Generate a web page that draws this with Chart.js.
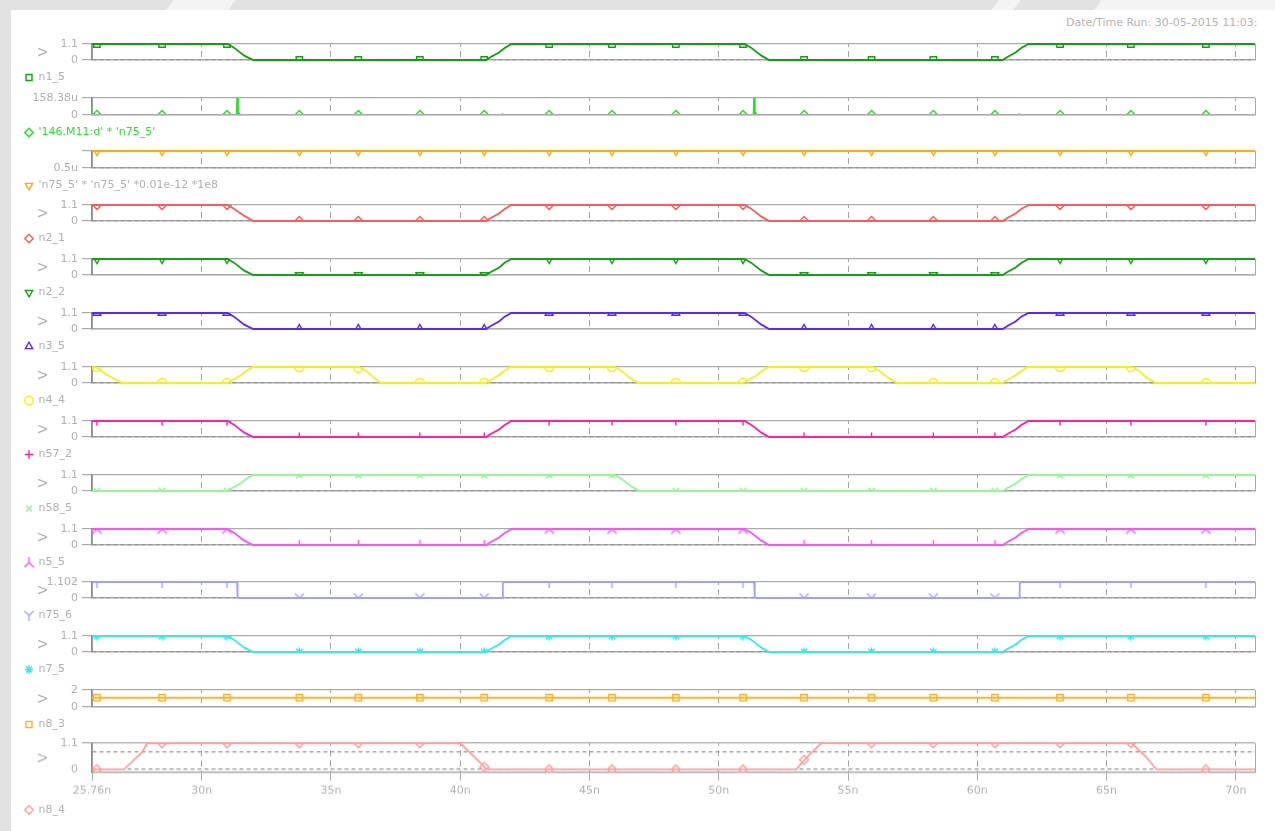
<!DOCTYPE html>
<html>
<head>
<meta charset="utf-8">
<title>waveforms</title>
<script src="https://cdn.jsdelivr.net/npm/chart.js"></script>
<style>
  body { margin: 0; width: 1275px; height: 831px; overflow: hidden; position: relative; background: #e2e2e2; font-family: "DejaVu Sans", sans-serif; }
  #sheet { position: absolute; left: 11px; top: 10px; right: 0; bottom: 0; background: #fff; }
  .deco { position: absolute; top: 0; height: 10px; background: #f4f4f4; transform: skewX(-35deg); }
  .panel { position: absolute; left: 0; width: 1275px; }
  #stamp { position: absolute; left: 1066px; top: 16px; font-size: 11px; color: #b4b4b4; white-space: nowrap; }
</style>
</head>
<body>
<div id="sheet"></div>
<div class="deco" style="left:170px;width:62px"></div>
<div class="deco" style="left:995px;width:22px"></div>
<div class="deco" style="left:1098px;width:190px"></div>
<div id="stamp">Date/Time Run: 30-05-2015 11:03:</div>
<script>
"use strict";

// time axis, ns
const xMin = 25.76;
const xMax = 70.74;
const xTicks = [25.76, 30, 35, 40, 45, 50, 55, 60, 65, 70];
const xTickLabels = ["25.76n", "30n", "35n", "40n", "45n", "50n", "55n", "60n", "65n", "70n"];

// where the simulator drew a marker on every trace
const markerTimes = [25.95, 28.47, 30.98, 33.78, 36.06, 38.44, 40.93, 43.44, 45.87, 48.34, 50.94, 53.30, 55.91, 58.30, 60.68, 63.20, 65.94, 68.84];

// breakpoints of the traces
const tMain = [25.76, 31.0, 31.25, 31.65, 32.0, 41.0, 41.2, 41.5, 41.72, 41.98, 51.0, 51.25, 51.65, 51.95, 60.98, 61.18, 61.48, 61.7, 61.98, 70.74];
const tN58 = [25.76, 31.0, 31.2, 31.5, 31.72, 31.98, 45.98, 46.23, 46.63, 46.95, 60.98, 61.18, 61.48, 61.7, 61.98, 70.74];
const tN4 = [25.76, 25.95, 26.3, 26.94, 31.0, 31.2, 31.5, 31.72, 31.98, 36.1, 36.35, 36.7, 36.95, 40.98, 41.18, 41.48, 41.7, 41.94,
  45.98, 46.23, 46.6, 46.92, 50.95, 51.15, 51.45, 51.67, 51.92, 55.96, 56.2, 56.6, 56.92, 60.97, 61.17, 61.47, 61.7, 61.95, 66.0, 66.25, 66.6, 66.92, 70.74];
const tN75_6 = [25.76, 31.37, 31.39, 31.45, 41.63, 41.65, 41.72, 51.37, 51.39, 51.45, 61.62, 61.64, 61.71, 70.74];
const tM11 = [25.76, 31.36, 31.38, 31.4, 31.44, 31.49, 41.61, 41.64, 41.67, 51.35, 51.37, 51.39, 51.43, 51.48, 61.59, 61.62, 61.65, 70.74];
const tFlat = [25.76, 70.74];
const tN8_4 = [25.76, 27.0, 27.7, 27.9, 40.0, 40.9, 41.02, 53.0, 53.43, 53.97, 65.96, 66.5, 66.93, 70.74];

// trace values (V, or u for the two expressions)
const n1_5 = [1.1, 1.1, 0.85, 0.3, 0, 0, 0.22, 0.52, 0.82, 1.1, 1.1, 0.85, 0.3, 0, 0, 0.22, 0.52, 0.82, 1.1, 1.1];
const m11 = [0, 0, 158.38, 28, 14, 0, 0, 6, 0, 0, 158.38, 28, 14, 0, 0, 6, 0, 0];
const n75sq = [1.21, 1.21];
const n2_1 = [1.1, 1.1, 0.84, 0.35, 0, 0, 0.22, 0.52, 0.82, 1.1, 1.1, 0.85, 0.3, 0, 0, 0.22, 0.52, 0.82, 1.1, 1.1];
const n2_2 = [1.1, 1.1, 0.85, 0.3, 0, 0, 0.22, 0.5, 0.84, 1.1, 1.1, 0.85, 0.3, 0, 0, 0.22, 0.52, 0.82, 1.1, 1.1];
const n3_5 = [1.1, 1.1, 0.85, 0.3, 0, 0, 0.22, 0.52, 0.85, 1.1, 1.1, 0.85, 0.3, 0, 0, 0.22, 0.52, 0.85, 1.1, 1.1];
const n4_4 = [1.1, 1.05, 0.6, 0, 0, 0.22, 0.52, 0.82, 1.1, 1.1, 0.85, 0.3, 0, 0, 0.22, 0.52, 0.82, 1.1, 1.1, 0.85, 0.3, 0,
  0, 0.22, 0.52, 0.82, 1.1, 1.1, 0.85, 0.3, 0, 0, 0.22, 0.52, 0.82, 1.1, 1.1, 0.85, 0.3, 0, 0];
const n57_2 = [1.1, 1.1, 0.85, 0.3, 0, 0, 0.22, 0.52, 0.82, 1.1, 1.1, 0.85, 0.3, 0, 0, 0.22, 0.52, 0.82, 1.1, 1.1];
const n58_5 = [0, 0, 0.22, 0.52, 0.82, 1.1, 1.1, 0.85, 0.3, 0, 0, 0.22, 0.52, 0.82, 1.1, 1.1];
const n5_5 = [1.1, 1.1, 0.85, 0.3, 0, 0, 0.22, 0.52, 0.82, 1.1, 1.1, 0.85, 0.3, 0, 0, 0.22, 0.52, 0.82, 1.1, 1.1];
const n75_6 = [1.1, 1.1, 0.08, 0, 0, 1.02, 1.1, 1.1, 0.08, 0, 0, 1.02, 1.1, 1.1];
const n7_5 = [1.1, 1.1, 0.85, 0.3, 0, 0, 0.22, 0.52, 0.82, 1.1, 1.1, 0.85, 0.3, 0, 0, 0.22, 0.52, 0.82, 1.1, 1.1];
const n8_3 = [1.1, 1.1];
const n8_4 = [0, 0, 0.72, 1.1, 1.1, 0.15, 0, 0, 0.53, 1.1, 1.1, 0.55, 0, 0];

// trace value at each marker
const mkMain = [1.1, 1.1, 1.1, 0, 0, 0, 0, 1.1, 1.1, 1.1, 1.1, 0, 0, 0, 0, 1.1, 1.1, 1.1];
const mkM11 = [0, 0, 0, 0, 0, 0, 0, 0, 0, 0, 0, 0, 0, 0, 0, 0, 0, 0];
const mkSq = [1.21, 1.21, 1.21, 1.21, 1.21, 1.21, 1.21, 1.21, 1.21, 1.21, 1.21, 1.21, 1.21, 1.21, 1.21, 1.21, 1.21, 1.21];
const mkN4 = [1.1, 0, 0, 1.1, 1.05, 0, 0, 1.1, 1.1, 0, 0, 1.1, 1.1, 0, 0, 1.1, 1.1, 0];
const mkN58 = [0, 0, 0, 1.1, 1.1, 1.1, 1.1, 1.1, 1.1, 0, 0, 0, 0, 0, 0, 1.1, 1.1, 1.1];
const mkN8_3 = [1.1, 1.1, 1.1, 1.1, 1.1, 1.1, 1.1, 1.1, 1.1, 1.1, 1.1, 1.1, 1.1, 1.1, 1.1, 1.1, 1.1, 1.1];
const mkN8_4 = [0, 1.1, 1.1, 1.1, 1.1, 1.1, 0.1, 0, 0, 0, 0, 0.4, 1.1, 1.1, 1.1, 1.1, 1.1, 0];

// y ticks and their labels
const yTicksV = [0, 1.1];
const yLabelsV = ["0", "1.1"];
const yTicksM11 = [0, 158.38];
const yLabelsM11 = ["0", "158.38u"];
const yTicksSq = [0.5, 1.21];
const yLabelsSq = ["0.5u", ""];
const yTicksN75_6 = [0, 1.102];
const yLabelsN75_6 = ["0", "1.102"];
const yTicksN8_3 = [0, 2];
const yLabelsN8_3 = ["0", "2"];
const yTicksN8_4 = [0, 0.72, 1.1];
const yLabelsN8_4 = ["0", "", "1.1"];

const GRID = "#ababab";
const DASH = "#959595";
const TXT = "#b0b0b0";
const FONT = "'DejaVu Sans', sans-serif";
const PAD_L = 23;
const PAD_T = 12;

// little three-legged markers that Chart.js has no style for
function forkMark(color, armsUp) {
    const c = document.createElement("canvas");
    c.width = 11;
    c.height = 11;
    const g = c.getContext("2d");
    g.strokeStyle = color;
    g.lineWidth = 1.4;
    g.beginPath();
    if (armsUp) {
        g.moveTo(5.5, 5.5); g.lineTo(5.5, 11);
        g.moveTo(5.5, 5.5); g.lineTo(1, 1);
        g.moveTo(5.5, 5.5); g.lineTo(10, 1);
    } else {
        g.moveTo(5.5, 5.5); g.lineTo(5.5, 0);
        g.moveTo(5.5, 5.5); g.lineTo(1, 10);
        g.moveTo(5.5, 5.5); g.lineTo(10, 10);
    }
    g.stroke();
    return c;
}

const panels = [
    { name: "n1_5", t: tMain, v: n1_5, mk: mkMain, color: "#10a010", point: "rect", top: 44, h: 16, yMin: 0, yMax: 1.1, ticks: yTicksV, labels: yLabelsV, dashAt: [0], vTitle: true },
    { name: "'146.M11:d' * 'n75_5'", t: tM11, v: m11, mk: mkM11, color: "#1ee61e", point: "rectRot", top: 98, h: 17, yMin: 0, yMax: 158.38, ticks: yTicksM11, labels: yLabelsM11, dashAt: [], vTitle: false, textColor: "#30e030", hideBase: true, lw: 2 },
    { name: "'n75_5' * 'n75_5' *0.01e-12 *1e8", t: tFlat, v: n75sq, mk: mkSq, color: "#ffaa10", point: "triangle", rot: 180, top: 151, h: 17, yMin: 0.5, yMax: 1.21, ticks: yTicksSq, labels: yLabelsSq, dashAt: [0.5], vTitle: false },
    { name: "n2_1", t: tMain, v: n2_1, mk: mkMain, color: "#ff5a5a", point: "rectRot", top: 205, h: 16, yMin: 0, yMax: 1.1, ticks: yTicksV, labels: yLabelsV, dashAt: [0], vTitle: true },
    { name: "n2_2", t: tMain, v: n2_2, mk: mkMain, color: "#14a014", point: "triangle", rot: 180, top: 259, h: 16, yMin: 0, yMax: 1.1, ticks: yTicksV, labels: yLabelsV, dashAt: [], vTitle: true },
    { name: "n3_5", t: tMain, v: n3_5, mk: mkMain, color: "#5a28ff", point: "triangle", top: 313, h: 16, yMin: 0, yMax: 1.1, ticks: yTicksV, labels: yLabelsV, dashAt: [], vTitle: true },
    { name: "n4_4", t: tN4, v: n4_4, mk: mkN4, color: "#f2f21a", point: "circle", top: 367, h: 16, yMin: 0, yMax: 1.1, ticks: yTicksV, labels: yLabelsV, dashAt: [0], vTitle: true },
    { name: "n57_2", t: tMain, v: n57_2, mk: mkMain, color: "#ff1ea8", point: "cross", top: 421, h: 16, yMin: 0, yMax: 1.1, ticks: yTicksV, labels: yLabelsV, dashAt: [0], vTitle: true },
    { name: "n58_5", t: tN58, v: n58_5, mk: mkN58, color: "#96f796", point: "crossRot", top: 475, h: 16, yMin: 0, yMax: 1.1, ticks: yTicksV, labels: yLabelsV, dashAt: [0], vTitle: true },
    { name: "n5_5", t: tMain, v: n5_5, mk: mkMain, color: "#ff50ff", point: forkMark("#ff50ff", false), top: 529, h: 16, yMin: 0, yMax: 1.1, ticks: yTicksV, labels: yLabelsV, dashAt: [0], vTitle: true },
    { name: "n75_6", t: tN75_6, v: n75_6, mk: mkMain, color: "#a0a0ff", point: forkMark("#a0a0ff", true), top: 582, h: 16, yMin: 0, yMax: 1.102, ticks: yTicksN75_6, labels: yLabelsN75_6, dashAt: [0], vTitle: true },
    { name: "n7_5", t: tMain, v: n7_5, mk: mkMain, color: "#32ecec", point: "star", top: 636, h: 16, yMin: 0, yMax: 1.1, ticks: yTicksV, labels: yLabelsV, dashAt: [0], vTitle: true },
    { name: "n8_3", t: tFlat, v: n8_3, mk: mkN8_3, color: "#ffb428", point: "rect", top: 690, h: 17, yMin: 0, yMax: 2, ticks: yTicksN8_3, labels: yLabelsN8_3, dashAt: [], vTitle: true, lw: 2 },
    { name: "n8_4", t: tN8_4, v: n8_4, mk: mkN8_4, color: "#ffa0a0", point: "rectRot", top: 743, h: 29, yMin: -0.13, yMax: 1.1, ticks: yTicksN8_4, labels: yLabelsN8_4, dashAt: [0, 0.72], vTitle: true }
];

panels.forEach((p, i) => {
    const last = i === panels.length - 1;
    const xAxisH = last ? 29.5 : 10;
    const box = document.createElement("div");
    box.className = "panel";
    box.style.top = (p.top - PAD_T) + "px";
    box.style.height = (PAD_T + p.h + xAxisH + 23) + "px";
    const cv = document.createElement("canvas");
    box.appendChild(cv);
    document.body.appendChild(box);

    new Chart(cv, {
        type: "line",
        data: {
            datasets: [{
                data: p.t.map((x, k) => ({ x: x, y: p.v[k] })),
                borderColor: p.color,
                borderWidth: p.lw || 1.8,
                pointRadius: 0,
                tension: 0,
                fill: false,
                clip: { left: 0, right: 0, top: 1, bottom: p.hideBase ? 0 : 1 }
            }, {
                data: markerTimes.map((x, k) => ({ x: x, y: p.mk[k] })),
                showLine: false,
                pointStyle: p.point,
                pointRotation: p.rot || 0,
                pointRadius: 4.5,
                pointBorderColor: p.color,
                pointBackgroundColor: "rgba(0,0,0,0)",
                pointBorderWidth: 1.4,
                clip: 0
            }]
        },
        options: {
            responsive: true,
            maintainAspectRatio: false,
            animation: false,
            events: [],
            layout: { padding: { left: PAD_L, right: 20, top: PAD_T, bottom: 0 } },
            plugins: {
                tooltip: { enabled: false },
                legend: {
                    position: "bottom",
                    align: "start",
                    labels: {
                        usePointStyle: true,
                        boxWidth: 8,
                        boxHeight: 6,
                        padding: 2,
                        font: { size: 11, family: FONT },
                        generateLabels: () => [{
                            text: p.name,
                            fontColor: p.textColor || TXT,
                            pointStyle: p.point,
                            rotation: p.rot || 0,
                            strokeStyle: p.color,
                            fillStyle: "rgba(0,0,0,0)",
                            lineWidth: 1.4,
                            hidden: false,
                            datasetIndex: 1
                        }]
                    }
                }
            },
            scales: {
                x: {
                    type: "linear",
                    min: xMin,
                    max: xMax,
                    afterBuildTicks: s => { s.ticks = xTicks.concat([xMax]).map(v => ({ value: v })); },
                    afterFit: s => { s.height = xAxisH; },
                    ticks: {
                        display: last,
                        autoSkip: false,
                        maxRotation: 0,
                        padding: 4,
                        color: TXT,
                        font: { size: 11, family: FONT },
                        callback: (v, idx) => xTickLabels[idx] === undefined ? "" : xTickLabels[idx]
                    },
                    grid: {
                        color: c => (c.tick && c.tick.value > xMin && c.tick.value < xMax) ? "#a4a4a4" : GRID,
                        lineWidth: 1,
                        drawTicks: last,
                        tickLength: 8,
                        tickBorderDash: [],
                        tickColor: c => (c.tick && c.tick.value < xMax) ? GRID : "rgba(0,0,0,0)"
                    },
                    border: {
                        display: true,
                        color: GRID,
                        width: 1.5,
                        z: p.hideBase ? 1 : -1,
                        dash: c => (c.tick && c.tick.value > xMin && c.tick.value < xMax) ? [6, 4] : [],
                        dashOffset: 3
                    }
                },
                y: {
                    type: "linear",
                    min: p.yMin,
                    max: p.yMax,
                    afterBuildTicks: s => { s.ticks = p.ticks.map(v => ({ value: v })); },
                    afterFit: s => { s.width = 92 - PAD_L; },
                    ticks: {
                        autoSkip: false,
                        padding: 4,
                        color: TXT,
                        font: { size: 11, family: FONT },
                        callback: (v, idx) => p.labels[idx]
                    },
                    grid: {
                        color: c => (c.tick && p.dashAt.includes(c.tick.value)) ? DASH : GRID,
                        lineWidth: 1.2,
                        drawTicks: true,
                        tickLength: 10,
                        tickBorderDash: [],
                        tickColor: c => (c.tick && c.tick.value > p.yMin && c.tick.value < p.yMax) ? "rgba(0,0,0,0)" : GRID
                    },
                    border: {
                        display: true,
                        color: "#8e8e8e",
                        width: 1.5,
                        dash: c => (c.tick && p.dashAt.includes(c.tick.value)) ? [4, 3] : []
                    },
                    title: {
                        display: p.vTitle,
                        text: "V",
                        color: TXT,
                        font: { size: 13, family: FONT },
                        padding: { top: 13, bottom: 0 }
                    }
                }
            }
        }
    });
});
</script>
</body>
</html>
